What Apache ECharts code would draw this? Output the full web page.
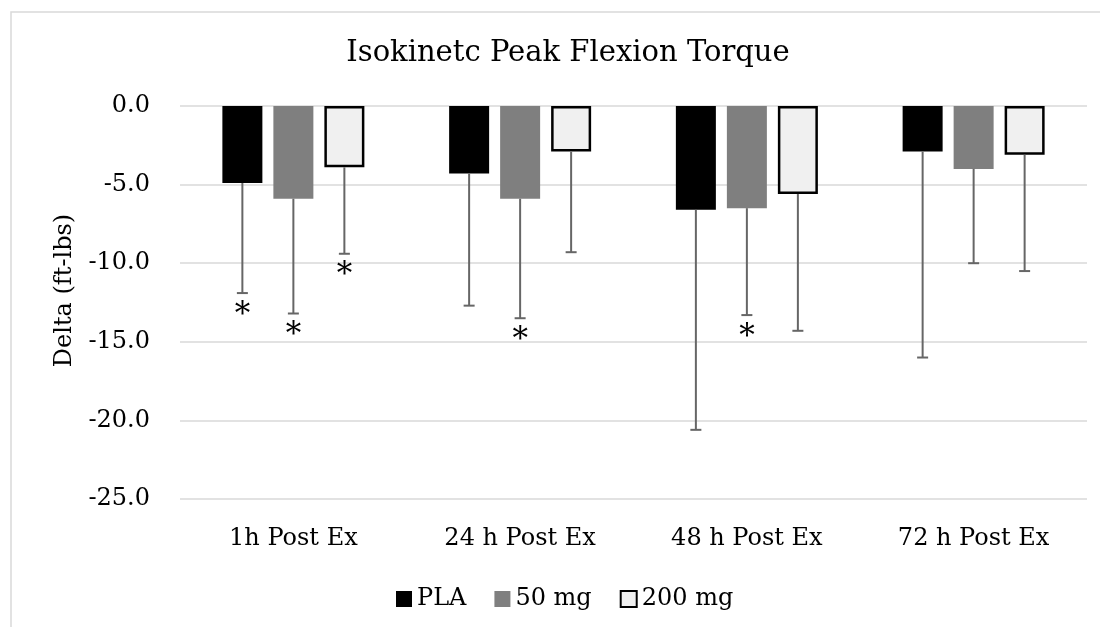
<!DOCTYPE html>
<html>
<head>
<meta charset="utf-8">
<script src="https://cdn.jsdelivr.net/npm/echarts@6/dist/echarts.min.js"></script>
<style>
  html, body { margin: 0; padding: 0; background: #fff; }
  #chart { width: 1100px; height: 627px; }
</style>
</head>
<body>
<div id="chart"></div>
<script>
    // values (delta, ft-lbs)
    var categories = ['1h Post Ex', '24 h Post Ex', '48 h Post Ex', '72 h Post Ex'];
    var groupNames = ['PLA', '50 mg', '200 mg'];

    var plaMean = [-4.9, -4.3, -6.6, -2.9];
    var plaSd = [7.0, 8.4, 14.0, 13.1];
    var mg50Mean = [-5.9, -5.9, -6.5, -4.0];
    var mg50Sd = [7.3, 7.6, 6.8, 6.0];
    var mg200Mean = [-3.9, -2.9, -5.6, -3.1];
    var mg200Sd = [5.5, 6.4, 8.7, 7.4];

    // 1 = asterisk under the error bar
    var plaSig = [1, 0, 0, 0];
    var mg50Sig = [1, 1, 1, 0];
    var mg200Sig = [1, 0, 0, 0];

    var yTicks = [0, -5, -10, -15, -20, -25];

    var font = 'DejaVu Serif';
    var barWidth = 40;
    var barGapPx = 11;

    function errData(mean, sd, sig) {
        return mean.map(function (m, i) {
            return [i, m, m - sd[i], sig[i]];
        });
    }

    function makeErrRender(offset) {
        return function (params, api) {
            var top = api.coord([api.value(0), api.value(1)]);
            var bot = api.coord([api.value(0), api.value(2)]);
            var x = top[0] + offset;
            var cap = 5.5;
            var style = {stroke: '#666', lineWidth: 2};
            var children = [
                {type: 'line', shape: {x1: x, y1: top[1], x2: x, y2: bot[1]}, style: style},
                {type: 'line', shape: {x1: x - cap, y1: bot[1], x2: x + cap, y2: bot[1]}, style: style}
            ];
            if (api.value(3)) {
                children.push({
                    type: 'text',
                    style: {
                        text: '*', x: x, y: bot[1] + 7,
                        align: 'center', verticalAlign: 'top',
                        font: '31px "' + font + '"', fill: '#000'
                    }
                });
            }
            return {type: 'group', children: children};
        };
    }

    var step = barWidth + barGapPx;
    var groups = [
        {mean: plaMean, sd: plaSd, sig: plaSig, color: '#000000', border: null},
        {mean: mg50Mean, sd: mg50Sd, sig: mg50Sig, color: '#7f7f7f', border: null},
        {mean: mg200Mean, sd: mg200Sd, sig: mg200Sig, color: '#f0f0f0', border: '#000000'}
    ];

    var series = [];
    groups.forEach(function (g, k) {
        var itemStyle = {color: g.color};
        if (g.border) {
            itemStyle.borderColor = g.border;
            itemStyle.borderWidth = 2.5;
        }
        series.push({
            name: groupNames[k],
            type: 'bar',
            barWidth: barWidth,
            barGap: (barGapPx / barWidth * 100) + '%',
            itemStyle: itemStyle,
            data: g.mean
        });
    });
    groups.forEach(function (g, k) {
        series.push({
            name: groupNames[k] + ' sd',
            type: 'custom',
            renderItem: makeErrRender((k - 1) * step),
            data: errData(g.mean, g.sd, g.sig),
            z: 3,
            silent: true
        });
    });

    var chart = echarts.init(document.getElementById('chart'));
    chart.setOption({
        animation: false,
        backgroundColor: '#fff',
        title: {
            text: 'Isokinetc Peak Flexion Torque',
            left: 563,
            top: 34,
            textAlign: 'center',
            textStyle: {fontFamily: font, fontWeight: 'normal', fontSize: 29, color: '#000'}
        },
        graphic: [{
            type: 'rect',
            shape: {x: 11, y: 12, width: 1200, height: 700},
            style: {fill: 'none', stroke: '#d9d9d9', lineWidth: 1.5},
            silent: true,
            z: -10
        }],
        legend: {
            data: groupNames,
            left: 391,
            top: 582,
            icon: 'rect',
            itemWidth: 16,
            itemHeight: 16,
            itemGap: 28,
            textStyle: {fontFamily: font, fontSize: 24, color: '#000'}
        },
        grid: {left: 180, right: 13, top: 106, bottom: 128},
        xAxis: {
            type: 'category',
            data: categories,
            axisLine: {show: false, onZero: false},
            axisTick: {show: false},
            axisLabel: {margin: 28, fontFamily: font, fontSize: 24, color: '#000'}
        },
        yAxis: {
            type: 'value',
            min: yTicks[yTicks.length - 1],
            max: yTicks[0],
            interval: 5,
            name: 'Delta (ft-lbs)',
            nameLocation: 'middle',
            nameGap: 103,
            nameTextStyle: {fontFamily: font, fontSize: 24, color: '#000', padding: [0, 0, 0, 24]},
            axisLine: {show: false},
            axisTick: {show: false},
            axisLabel: {
                margin: 30,
                fontFamily: font, fontSize: 24, color: '#000',
                formatter: function (v) { return v.toFixed(1); }
            },
            splitLine: {lineStyle: {color: '#d9d9d9', width: 1.5}}
        },
        series: series
    });
</script>
</body>
</html>
